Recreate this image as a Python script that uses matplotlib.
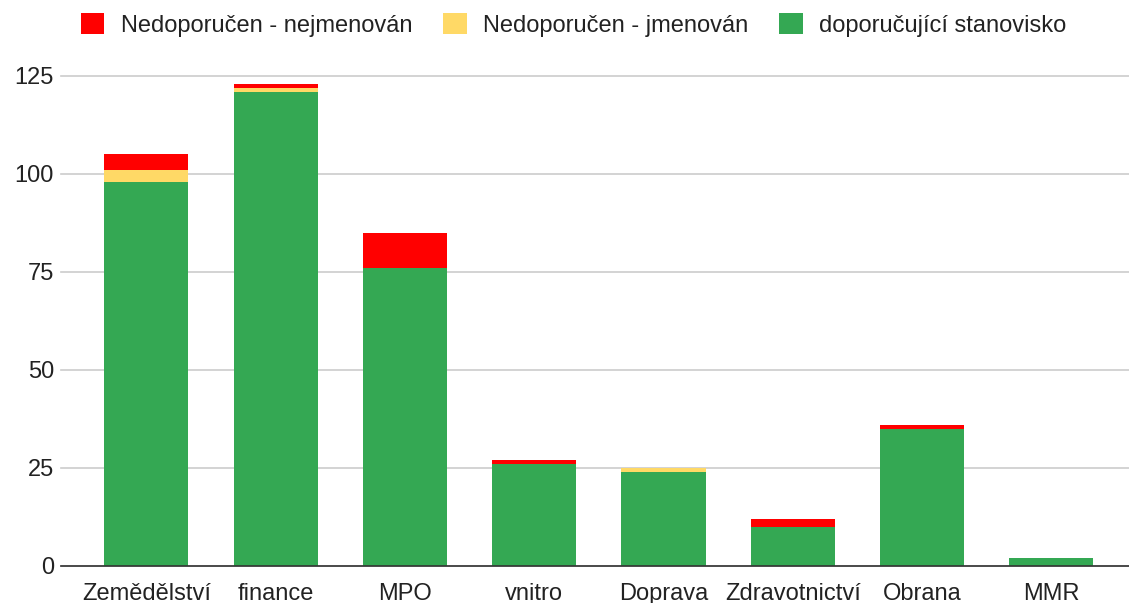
import matplotlib
matplotlib.use("Agg")
import matplotlib.pyplot as plt
import numpy as np

categories = ["Zemědělství", "finance", "MPO", "vnitro", "Doprava", "Zdravotnictví", "Obrana", "MMR"]
doporucujici = [98, 121, 76, 26, 24, 10, 35, 2]
jmenovan = [3, 1, 0, 0, 1, 0, 0, 0]
nejmenovan = [4, 1, 9, 1, 0, 2, 1, 0]

plt.rcParams["font.family"] = ["Liberation Sans", "DejaVu Sans"]

fig = plt.figure(figsize=(11.29, 6.03), dpi=100)
ax = fig.add_axes([0.054, 0.0614, 0.946, 0.8126])

x = np.arange(len(categories))
w = 0.65
green = np.array(doporucujici)
yellow = np.array(jmenovan)
red = np.array(nejmenovan)

ax.bar(x, green, w, color="#34a853", label="doporučující stanovisko", zorder=3)
ax.bar(x, yellow, w, bottom=green, color="#ffd966", label="Nedoporučen - jmenován", zorder=3)
ax.bar(x, red, w, bottom=green + yellow, color="#ff0000", label="Nedoporučen - nejmenován", zorder=3)

ax.set_xlim(-0.66, 7.6)
ax.set_ylim(0, 125)
ax.set_yticks([0, 25, 50, 75, 100, 125])
ax.set_xticks(x)
ax.set_xticklabels(categories, fontsize=17, color="#222222")
ax.tick_params(axis="y", labelsize=17, labelcolor="#222222", length=0, pad=5)
ax.tick_params(axis="x", length=0, pad=12)
ax.yaxis.grid(True, color="#cccccc", linewidth=1.2, zorder=0, clip_on=False)
for sp in ["top", "right", "left"]:
    ax.spines[sp].set_visible(False)
ax.spines["bottom"].set_color("#333333")
ax.spines["bottom"].set_linewidth(1.2)
ax.spines["bottom"].set_zorder(4)

handles, labels = ax.get_legend_handles_labels()
order = [2, 1, 0]
fig.legend([handles[i] for i in order], [labels[i] for i in order],
           loc="center", bbox_to_anchor=(0.508, 0.959), ncol=3, frameon=False,
           fontsize=17, handlelength=1.0, handleheight=1.0, columnspacing=1.3,
           handletextpad=0.7, labelcolor="#222222")

fig.savefig("out.png", dpi=100)
